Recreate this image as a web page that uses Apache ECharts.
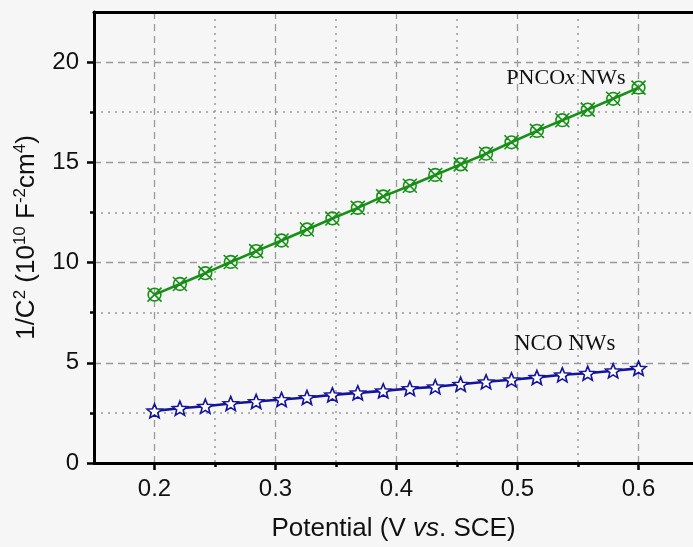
<!DOCTYPE html>
<html>
<head>
<meta charset="utf-8">
<script src="https://cdn.jsdelivr.net/npm/echarts@6/dist/echarts.min.js"></script>
<style>
html,body{margin:0;padding:0;background:#f6f6f6;}
#chart{width:693px;height:547px;}
</style>
</head>
<body>
<div id="chart"></div>
<script>
// ---- data ----
const xValues = [0.200,0.221,0.242,0.263,0.284,0.305,0.326,0.347,0.368,0.389,0.411,0.432,0.453,0.474,0.495,0.516,0.537,0.558,0.579,0.600];
const pncoValues = [8.40,8.93,9.47,10.03,10.57,11.10,11.65,12.20,12.73,13.30,13.83,14.37,14.90,15.43,16.00,16.57,17.10,17.63,18.17,18.73];
const ncoValues = [2.60,2.73,2.83,2.97,3.07,3.17,3.27,3.40,3.50,3.60,3.72,3.80,3.93,4.05,4.15,4.27,4.40,4.48,4.60,4.72];
const xMajorTicks = [0.2,0.3,0.4,0.5,0.6];
const xMinorTicks = [0.25,0.35,0.45,0.55];
const yMajorTicks = [0,5,10,15,20];
const yMinorTicks = [2.5,7.5,12.5,17.5];
const seriesNames = ['PNCOx NWs','NCO NWs'];
const labelPNCO = [0.540, 19.2];
const labelNCO = [0.539, 5.95];

// ---- styling ----
const green = '#189018';
const blue = '#14149c';
const gridGray = '#9a9a9a';
const sans = '"Liberation Sans", Arial, sans-serif';
const serif = '"Liberation Serif", "Times New Roman", serif';
const starPath = 'path://M50,0 L62.93,32.2 L97.55,34.55 L70.92,56.8 L79.39,90.45 L50,72 L20.61,90.45 L29.08,56.8 L2.45,34.55 L37.07,32.2 Z';
const circleXPath = 'path://M50,12 A38,38 0 1,1 50,88 A38,38 0 1,1 50,12 Z M8,8 L92,92 M92,8 L8,92';

const xMin = 0.15, xMax = 0.645, yMin = 0, yMax = 22.5;

function isMult(v, step){ const r = v/step; return Math.abs(r - Math.round(r)) < 1e-6; }

const chart = echarts.init(document.getElementById('chart'), null, {renderer:'canvas'});
const option = {
  backgroundColor: '#f6f6f6',
  animation: false,
  grid: {left: 94, right: 0, top: 12, bottom: 84, containLabel: false},
  xAxis: [
    {
      type: 'value', position: 'bottom', min: xMin, max: xMax, interval: 0.05,
      axisLine: {show: true, onZero: false, lineStyle: {color: '#000', width: 3}},
      axisTick: {show: true, customValues: xMajorTicks, length: 7, lineStyle: {color: '#000', width: 2.5}},
      axisLabel: {show: true, customValues: xMajorTicks, margin: 14, fontSize: 24, fontFamily: sans, color: '#111',
        formatter: v => isMult(v, 0.1) ? v.toFixed(1) : ''},
      splitLine: {show: true, lineStyle: {type: [7, 5], color: gridGray, width: 1.3}},
      name: '{a|Potential (V }{i|vs}{a|. SCE)}',
      nameLocation: 'middle', nameGap: 53,
      nameTextStyle: {rich: {
        a: {fontSize: 26, fontFamily: sans, color: '#111'},
        i: {fontSize: 26, fontFamily: sans, fontStyle: 'italic', color: '#111'}
      }}
    },
    {
      type: 'value', position: 'bottom', min: xMin, max: xMax, interval: 0.05,
      axisLine: {show: false, onZero: false},
      axisTick: {show: true, customValues: xMinorTicks, length: 4, lineStyle: {color: '#000', width: 2.5}},
      axisLabel: {show: false},
      splitLine: {show: true, lineStyle: {type: [2, 5], color: gridGray, width: 1.5}}
    },
    {
      type: 'value', position: 'top', min: xMin, max: xMax, interval: 0.05,
      axisLine: {show: true, onZero: false, lineStyle: {color: '#000', width: 3}},
      axisTick: {show: false}, axisLabel: {show: false}, splitLine: {show: false}
    }
  ],
  yAxis: [
    {
      type: 'value', position: 'left', min: yMin, max: yMax, interval: 2.5,
      axisLine: {show: true, onZero: false, lineStyle: {color: '#000', width: 3}},
      axisTick: {show: true, customValues: yMajorTicks, length: 7, lineStyle: {color: '#000', width: 2.5}},
      axisLabel: {show: true, customValues: yMajorTicks, margin: 15, fontSize: 24, fontFamily: sans, color: '#111',
        formatter: v => isMult(v, 5) ? String(v) : ''},
      splitLine: {show: true, lineStyle: {type: [7, 5], color: gridGray, width: 1.3}},
      name: '{a|1/C}{s|2}{a| (10}{s|10}{a| F}{s|-2}{a|cm}{s|4}{a|)}',
      nameLocation: 'middle', nameGap: 50, nameRotate: 90,
      nameTextStyle: {rich: {
        a: {fontSize: 26, fontFamily: sans, color: '#111', lineHeight: 32},
        s: {fontSize: 17, fontFamily: sans, color: '#111', padding: [0, 0, 13, 0], lineHeight: 32}
      }}
    },
    {
      type: 'value', position: 'left', min: yMin, max: yMax, interval: 2.5,
      axisLine: {show: false, onZero: false},
      axisTick: {show: true, customValues: yMinorTicks, length: 4, lineStyle: {color: '#000', width: 2.5}},
      axisLabel: {show: false},
      splitLine: {show: true, lineStyle: {type: [2, 5], color: gridGray, width: 1.5}}
    }
  ],
  series: [
    {
      name: seriesNames[0], type: 'line', xAxisIndex: 0, yAxisIndex: 0,
      data: xValues.map((x, i) => [x, pncoValues[i]]),
      symbol: circleXPath, symbolSize: 14, showAllSymbol: true,
      lineStyle: {color: green, width: 2.6},
      itemStyle: {color: 'rgba(0,0,0,0)', borderColor: green, borderWidth: 1.6},
      emphasis: {disabled: true},
      z: 3,
      markPoint: {
        symbol: 'circle', symbolSize: 1, silent: true,
        itemStyle: {color: 'rgba(0,0,0,0)'},
        label: {show: true, position: 'inside',
          formatter: '{a|PNCO}{b|x}{a| NWs}',
          rich: {
            a: {fontFamily: serif, fontSize: 22, color: '#111'},
            b: {fontFamily: serif, fontSize: 22, fontStyle: 'italic', color: '#111'}
          }},
        data: [{coord: labelPNCO}]
      }
    },
    {
      name: seriesNames[1], type: 'line', xAxisIndex: 0, yAxisIndex: 0,
      data: xValues.map((x, i) => [x, ncoValues[i]]),
      symbol: starPath, symbolSize: [15, 14], showAllSymbol: true,
      lineStyle: {color: blue, width: 2.6},
      itemStyle: {color: '#ffffff', borderColor: blue, borderWidth: 1.6},
      emphasis: {disabled: true},
      z: 3,
      markPoint: {
        symbol: 'circle', symbolSize: 1, silent: true,
        itemStyle: {color: 'rgba(0,0,0,0)'},
        label: {show: true, position: 'inside',
          formatter: '{a|NCO NWs}',
          rich: {a: {fontFamily: serif, fontSize: 23, color: '#111'}}},
        data: [{coord: labelNCO}]
      }
    }
  ]
};
chart.setOption(option);
</script>
</body>
</html>
